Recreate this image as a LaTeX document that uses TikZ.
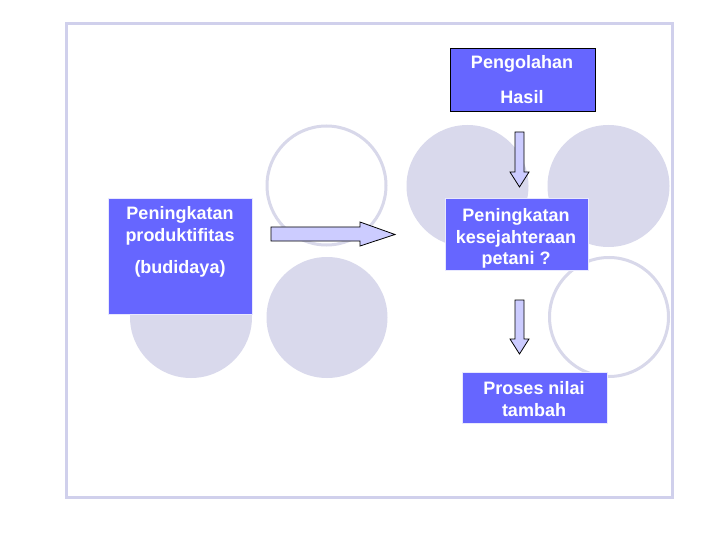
\documentclass[tikz,border=0pt]{standalone}
\usepackage{fontspec}
\setmainfont{Liberation Sans}
\definecolor{boxblue}{RGB}{102,102,255}
\definecolor{circfill}{RGB}{217,217,236}
\definecolor{circline}{RGB}{216,216,234}
\definecolor{framecol}{RGB}{208,208,236}
\definecolor{arrowfill}{RGB}{204,204,255}
\tikzset{
  fcirc/.style={fill=circfill, draw=none},
  ocirc/.style={draw=circline, line width=3pt, fill=white},
  bbox/.style={fill=boxblue, inner sep=0pt, anchor=north west},
  txt/.style={text=white, font=\fontsize{18}{21}\selectfont\bfseries, anchor=base, inner sep=0pt},
  blockarrow/.style={fill=arrowfill, draw=black, line width=0.8pt, line join=miter}
}
\begin{document}
\begin{tikzpicture}[x=1pt,y=-1pt]
\useasboundingbox (0,0) rectangle (720,540);
\fill[white] (0,0) rectangle (720,540);
% frame
\draw[framecol, line width=3pt] (66,24) rectangle (672,497);
% filled circles
\fill[fcirc] (191,317) circle (61);
\fill[fcirc] (327,317.5) circle (60.5);
\fill[fcirc] (467.5,186) circle (61);
\fill[fcirc] (608.5,186) circle (61);
% outline circles
\draw[ocirc] (326.5,185.5) circle (59.5);
\draw[ocirc] (609,317) circle (59.5);
% boxes
\node[bbox, draw=black, line width=1pt, minimum width=145pt, minimum height=63pt] (hasil) at (450,48) {};
\node[bbox, draw=white!85!boxblue, line width=0.8pt, minimum width=144pt, minimum height=116pt] (prod) at (108,198) {};
\node[bbox, draw=white!85!boxblue, line width=0.8pt, minimum width=143pt, minimum height=72pt] (sejah) at (445,198) {};
\node[bbox, draw=white!85!boxblue, line width=0.8pt, minimum width=145pt, minimum height=51pt] (nilai) at (462,372) {};
% texts
\node[txt] (t1) at (522,69) {Pengolahan};
\node[txt] (t2) at (522,103.5) {Hasil};
\node[txt] (t3) at (180,219.5) {Peningkatan};
\node[txt] (t4) at (180,241) {produktifitas};
\node[txt] (t5) at (180,273.5) {(budidaya)};
\node[txt] (t6) at (516,222) {Peningkatan};
\node[txt] (t7) at (516,243.5) {kesejahteraan};
\node[txt] (t8) at (516,264.5) {petani ?};
\node[txt] (t9) at (534,394.5) {Proses nilai};
\node[txt] (t10) at (534,416.5) {tambah};
% block arrows
\draw[blockarrow] (271,227) -- (360,227) -- (360,222) -- (395,234.5) -- (360,246) -- (360,241) -- (271,241) -- cycle;
\draw[blockarrow] (515,132) -- (524,132) -- (524,172) -- (529,172) -- (519.5,187) -- (510,172) -- (515,172) -- cycle;
\draw[blockarrow] (515,300) -- (524,300) -- (524,339) -- (529,339) -- (519.5,354) -- (510,339) -- (515,339) -- cycle;
\end{tikzpicture}
\end{document}
